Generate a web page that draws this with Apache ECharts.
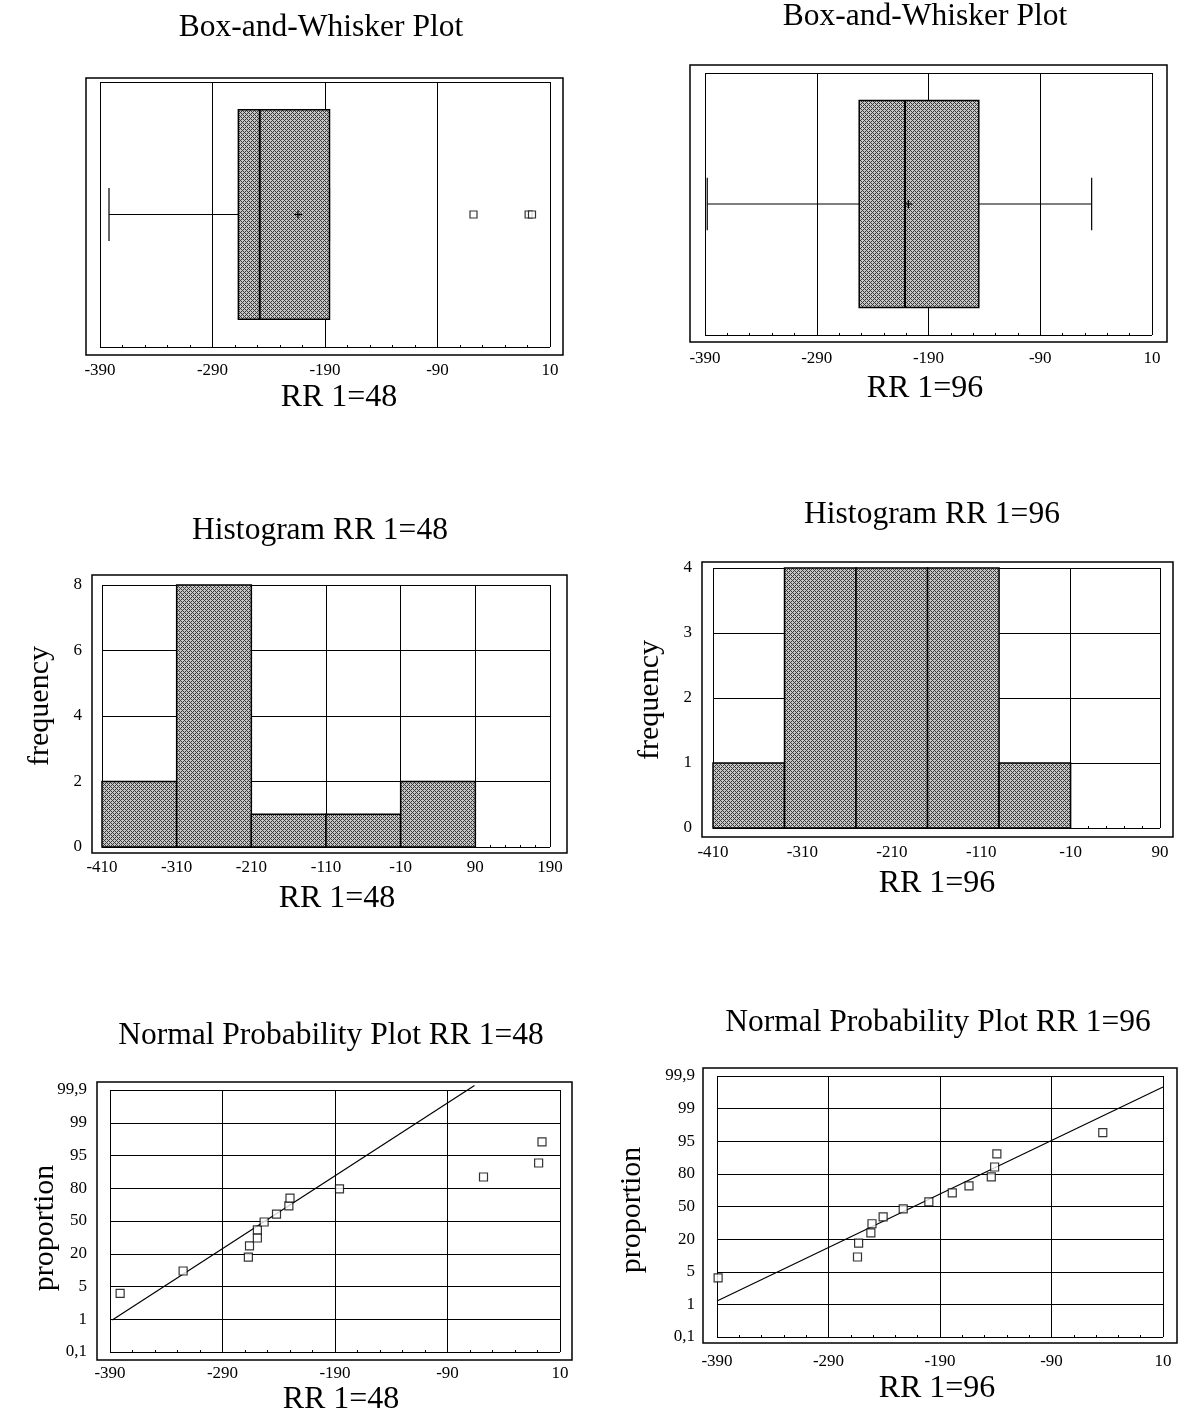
<!DOCTYPE html>
<html>
<head>
<meta charset="utf-8">
<script src="https://cdn.jsdelivr.net/npm/echarts@6/dist/echarts.min.js"></script>
<style>
html,body{margin:0;padding:0;background:#fff;}
#c{width:1179px;height:1422px;}
</style>
</head>
<body>
<div id="c"></div>
<script>
// ---------------- DATA ----------------
// Box-and-whisker statistics [min, Q1, median, Q3, max]
const BOX48_STATS = [-382, -267, -248, -186, -186];
const BOX48_MEAN = -214;
const BOX48_OUTLIERS = [-58, -9, -6];
const BOX96_STATS = [-388, -252, -211, -145, -44];
const BOX96_MEAN = -208;
const BOX96_OUTLIERS = [];

// Histograms: bin edges and counts
const H48_EDGES = [-410, -310, -210, -110, -10, 90];
const H48_COUNTS = [2, 8, 1, 1, 2];
const H96_EDGES = [-410, -330, -250, -170, -90, -10];
const H96_COUNTS = [1, 4, 4, 4, 1];

// Normal probability plots: values and proportions (%)
const N48_X = [-381, -325, -267, -266, -259, -259, -253, -242, -231, -230, -186, -58, -9, -6];
const N48_P = [3.7, 10.3, 17.8, 26.1, 33.1, 41.0, 49.0, 57.0, 65.1, 72.2, 79.5, 86.8, 92.8, 97.3];
const N96_X = [-389, -264, -263, -252, -251, -241, -223, -200, -179, -164, -144, -141, -139, -44];
const N96_P = [3.8, 10.0, 17.4, 24.8, 32.8, 39.4, 47.6, 54.7, 63.8, 70.2, 77.8, 84.4, 90.9, 96.6];
// fitted reference lines (end points)
const FIT48_X = [-388, -66];
const FIT48_P = [0.96, 99.93];
const FIT96_X = [-390, 10];
const FIT96_P = [1.2, 99.77];

// Probability axis ticks
const PROB_TICKS = [0.1, 1, 5, 20, 50, 80, 95, 99, 99.9];
const PROB_LABELS = ['0,1', '1', '5', '20', '50', '80', '95', '99', '99,9'];

// Texts
const TITLE_BOX = 'Box-and-Whisker Plot';
const TITLE_H48 = 'Histogram RR 1=48';
const TITLE_H96 = 'Histogram RR 1=96';
const TITLE_N48 = 'Normal Probability Plot RR 1=48';
const TITLE_N96 = 'Normal Probability Plot RR 1=96';
const NAME48 = 'RR 1=48';
const NAME96 = 'RR 1=96';
const NAME_FREQ = 'frequency';
const NAME_PROP = 'proportion';

// ---------------- helpers ----------------
function invNorm(p) {
  const a=[-3.969683028665376e+01,2.209460984245205e+02,-2.759285104469687e+02,1.383577518672690e+02,-3.066479806614716e+01,2.506628277459239e+00];
  const b=[-5.447609879822406e+01,1.615858368580409e+02,-1.556989798598866e+02,6.680131188771972e+01,-1.328068155288572e+01];
  const c=[-7.784894002430293e-03,-3.223964580411365e-01,-2.400758277161838e+00,-2.549671627557629e+00,4.374664141464968e+00,2.938163982698783e+00];
  const d=[7.784695709041462e-03,3.224671290700398e-01,2.445134137142996e+00,3.754408661907416e+00];
  const pl=0.02425, ph=1-pl; let q, r;
  if (p < pl) { q=Math.sqrt(-2*Math.log(p)); return (((((c[0]*q+c[1])*q+c[2])*q+c[3])*q+c[4])*q+c[5])/((((d[0]*q+d[1])*q+d[2])*q+d[3])*q+1); }
  if (p <= ph) { q=p-0.5; r=q*q; return (((((a[0]*r+a[1])*r+a[2])*r+a[3])*r+a[4])*r+a[5])*q/(((((b[0]*r+b[1])*r+b[2])*r+b[3])*r+b[4])*r+1); }
  q=Math.sqrt(-2*Math.log(1-p)); return -(((((c[0]*q+c[1])*q+c[2])*q+c[3])*q+c[4])*q+c[5])/((((d[0]*q+d[1])*q+d[2])*q+d[3])*q+1);
}
const PROB_Z = PROB_TICKS.map(v => invNorm(v / 100));
// probability scale: percent -> axis position (tick index units)
function probPos(pct) {
  const z = invNorm(pct / 100);
  let i = 0;
  while (i < PROB_Z.length - 2 && z > PROB_Z[i + 1]) i++;
  return i + (z - PROB_Z[i]) / (PROB_Z[i + 1] - PROB_Z[i]);
}

function makePattern() {
  const cv = document.createElement('canvas');
  cv.width = 4; cv.height = 4;
  const ctx = cv.getContext('2d');
  ctx.fillStyle = '#c6c6c6'; ctx.fillRect(0, 0, 4, 4);
  ctx.fillStyle = '#3a3a3a';
  for (let x = 0; x < 4; x++) for (let y = 0; y < 4; y++) {
    if ((x + y) % 4 === 0 || (x - y + 4) % 4 === 0) ctx.fillRect(x, y, 1, 1);
  }
  return { type: 'pattern', image: cv, repeat: 'repeat' };
}
const PATTERN = makePattern();

const FONT = 'Liberation Serif';
const TICK_FONT = 17;

// ---------------- layout ----------------
const GRIDS = [
  { left: 100, top: 82, width: 450, height: 265 },   // box 48
  { left: 705, top: 73, width: 447, height: 262 },   // box 96
  { left: 102, top: 585, width: 448, height: 262 },  // hist 48
  { left: 713, top: 568, width: 447, height: 260 },  // hist 96
  { left: 110, top: 1090, width: 450, height: 262 }, // npp 48
  { left: 717, top: 1076, width: 446, height: 261 }  // npp 96
];
const FRAMES = [
  [86, 78, 563, 355],
  [690, 65, 1167, 342],
  [92, 575, 567, 853],
  [702, 562, 1173, 837],
  [97, 1082, 572, 1360],
  [703, 1068, 1177, 1343]
];

function xAx(g, min, max, off, margin) {
  return {
    type: 'value', gridIndex: g, min: min, max: max, interval: 100, offset: off,
    axisLine: { show: false },
    axisTick: { show: true, inside: true, length: 5, lineStyle: { color: '#000' } },
    minorTick: { show: true, splitNumber: 5, length: 2, lineStyle: { color: '#000' } },
    splitLine: { show: true, lineStyle: { color: '#000', width: 1 } },
    axisLabel: { margin: margin, color: '#000', fontFamily: FONT, fontSize: TICK_FONT, showMinLabel: true, showMaxLabel: true }
  };
}
function yAx(g, min, max, interval, off, margin, fmt, showLabels) {
  return {
    type: 'value', gridIndex: g, min: min, max: max, interval: interval, offset: off,
    axisLine: { show: false },
    axisTick: { show: showLabels, inside: true, length: 5, lineStyle: { color: '#000' } },
    minorTick: { show: false },
    splitLine: { show: true, lineStyle: { color: '#000', width: 1 } },
    axisLabel: { show: showLabels, margin: margin, color: '#000', fontFamily: FONT, fontSize: TICK_FONT, formatter: fmt, showMinLabel: true, showMaxLabel: true }
  };
}

// ---------------- series ----------------
function boxSeries(g, stats, mean) {
  return {
    type: 'custom', xAxisIndex: g, yAxisIndex: g, z: 3,
    data: [[stats[0], stats[1], stats[2], stats[3], stats[4], mean]],
    encode: { x: [0, 1, 2, 3, 4, 5] },
    renderItem: function (params, api) {
      const mn = api.value(0), q1 = api.value(1), md = api.value(2), q3 = api.value(3), mx = api.value(4), mu = api.value(5);
      const yc = 0.5, hb = 0.395, hc = 0.1;
      const tl = api.coord([q1, yc + hb]), br = api.coord([q3, yc - hb]);
      const pMin = api.coord([mn, yc]), pMax = api.coord([mx, yc]);
      const capTop = api.coord([mn, yc + hc]), capBot = api.coord([mn, yc - hc]);
      const capTop2 = api.coord([mx, yc + hc]), capBot2 = api.coord([mx, yc - hc]);
      const mdT = api.coord([md, yc + hb]), mdB = api.coord([md, yc - hb]);
      const pMu = api.coord([mu, yc]);
      const ls = { stroke: '#000', lineWidth: 1.2 };
      return {
        type: 'group',
        children: [
          { type: 'line', shape: { x1: pMin[0], y1: pMin[1], x2: tl[0], y2: pMin[1] }, style: ls },
          { type: 'line', shape: { x1: br[0], y1: pMax[1], x2: pMax[0], y2: pMax[1] }, style: ls },
          { type: 'line', shape: { x1: capTop[0], y1: capTop[1], x2: capBot[0], y2: capBot[1] }, style: ls },
          { type: 'line', shape: { x1: capTop2[0], y1: capTop2[1], x2: capBot2[0], y2: capBot2[1] }, style: ls },
          { type: 'rect', shape: { x: tl[0], y: tl[1], width: br[0] - tl[0], height: br[1] - tl[1] },
            style: { fill: PATTERN, stroke: '#000', lineWidth: 1.5 } },
          { type: 'line', shape: { x1: mdT[0], y1: mdT[1], x2: mdB[0], y2: mdB[1] }, style: { stroke: '#000', lineWidth: 2 } },
          { type: 'line', shape: { x1: pMu[0] - 4, y1: pMu[1], x2: pMu[0] + 4, y2: pMu[1] }, style: { stroke: '#000', lineWidth: 1.2 } },
          { type: 'line', shape: { x1: pMu[0], y1: pMu[1] - 4, x2: pMu[0], y2: pMu[1] + 4 }, style: { stroke: '#000', lineWidth: 1.2 } }
        ]
      };
    }
  };
}
function outlierSeries(g, vals) {
  return {
    type: 'scatter', xAxisIndex: g, yAxisIndex: g, z: 4,
    symbol: 'rect', symbolSize: 7,
    itemStyle: { color: '#fff', borderColor: '#000', borderWidth: 1.2 },
    data: vals.map(v => [v, 0.5])
  };
}
function histSeries(g, edges, counts) {
  return {
    type: 'custom', xAxisIndex: g, yAxisIndex: g, z: 3,
    data: counts.map((c, i) => [edges[i], edges[i + 1], c]),
    encode: { x: [0, 1], y: 2 },
    renderItem: function (params, api) {
      const p0 = api.coord([api.value(0), 0]);
      const p1 = api.coord([api.value(1), api.value(2)]);
      return {
        type: 'rect',
        shape: { x: p0[0], y: p1[1], width: p1[0] - p0[0], height: p0[1] - p1[1] },
        style: { fill: PATTERN, stroke: '#000', lineWidth: 1.5 }
      };
    }
  };
}
function nppPoints(g, xs, ps) {
  return {
    type: 'scatter', xAxisIndex: g, yAxisIndex: g, z: 4,
    symbol: 'rect', symbolSize: 8,
    itemStyle: { color: '#fff', borderColor: '#000', borderWidth: 1.2 },
    data: xs.map((x, i) => [x, probPos(ps[i])])
  };
}
function fitLine(g, xs, ps) {
  return {
    type: 'line', xAxisIndex: g, yAxisIndex: g, z: 3, clip: false,
    symbol: 'none', silent: true,
    lineStyle: { color: '#000', width: 1.2 },
    data: xs.map((x, i) => [x, probPos(ps[i])])
  };
}

// ---------------- graphics (frames and texts) ----------------
function txt(s, x, y, size, rot) {
  return {
    type: 'text', x: x, y: y, rotation: rot || 0, silent: true, z: 10,
    style: { text: s, font: size + 'px "' + FONT + '"', fill: '#000',
      align: 'center', verticalAlign: 'middle', textAlign: 'center', textVerticalAlign: 'middle' }
  };
}
const graphics = FRAMES.map(f => ({
  type: 'rect', silent: true, z: 9,
  shape: { x: f[0], y: f[1], width: f[2] - f[0], height: f[3] - f[1] },
  style: { fill: 'none', stroke: '#000', lineWidth: 1.5 }
})).concat([
  txt(TITLE_BOX, 321, 28, 31.5),
  txt(TITLE_BOX, 925, 17, 31.5),
  txt(TITLE_H48, 320, 531, 31.5),
  txt(TITLE_H96, 932, 515, 31.5),
  txt(TITLE_N48, 331, 1036, 31.5),
  txt(TITLE_N96, 938, 1023, 31.5),
  txt(NAME48, 339, 398, 32),
  txt(NAME96, 925, 389, 32),
  txt(NAME48, 337, 899, 32),
  txt(NAME96, 937, 884, 32),
  txt(NAME48, 341, 1400, 32),
  txt(NAME96, 937, 1389, 32),
  txt(NAME_FREQ, 40, 706, 30, Math.PI / 2),
  txt(NAME_FREQ, 650, 700, 30, Math.PI / 2),
  txt(NAME_PROP, 45, 1228, 30, Math.PI / 2),
  txt(NAME_PROP, 632, 1210, 30, Math.PI / 2)
]);

const probFmt = v => PROB_LABELS[Math.round(v)];

const option = {
  backgroundColor: '#fff',
  animation: false,
  grid: GRIDS.map(g => Object.assign({ show: false, containLabel: false }, g)),
  xAxis: [
    xAx(0, -390, 10, 8, 7),
    xAx(1, -390, 10, 7, 8),
    xAx(2, -410, 190, 6, 6),
    xAx(3, -410, 90, 9, 7),
    xAx(4, -390, 10, 8, 5),
    xAx(5, -390, 10, 6, 10)
  ],
  yAxis: [
    yAx(0, 0, 1, 1, 0, 8, null, false),
    yAx(1, 0, 1, 1, 0, 8, null, false),
    yAx(2, 0, 8, 2, 10, 10, null, true),
    yAx(3, 0, 4, 1, 11, 10, null, true),
    yAx(4, 0, 8, 1, 13, 10, probFmt, true),
    yAx(5, 0, 8, 1, 14, 8, probFmt, true)
  ],
  graphic: graphics,
  series: [
    boxSeries(0, BOX48_STATS, BOX48_MEAN),
    outlierSeries(0, BOX48_OUTLIERS),
    boxSeries(1, BOX96_STATS, BOX96_MEAN),
    outlierSeries(1, BOX96_OUTLIERS),
    histSeries(2, H48_EDGES, H48_COUNTS),
    histSeries(3, H96_EDGES, H96_COUNTS),
    fitLine(4, FIT48_X, FIT48_P),
    nppPoints(4, N48_X, N48_P),
    fitLine(5, FIT96_X, FIT96_P),
    nppPoints(5, N96_X, N96_P)
  ]
};

const chart = echarts.init(document.getElementById('c'), null, { renderer: 'canvas' });
chart.setOption(option);
</script>
</body>
</html>
